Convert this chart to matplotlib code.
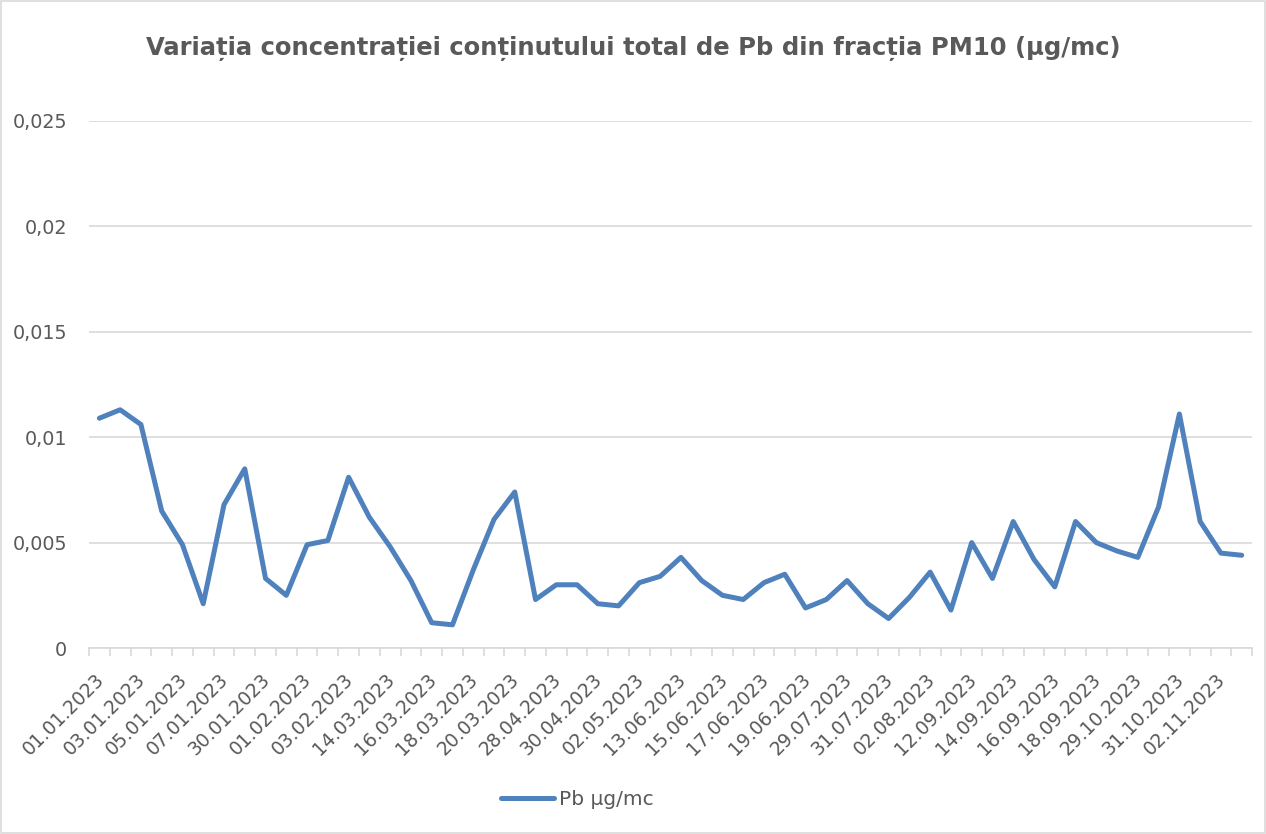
import numpy as np
import matplotlib.pyplot as plt
from matplotlib.ticker import FuncFormatter, FixedLocator
from matplotlib.patches import Rectangle
from matplotlib.transforms import ScaledTranslation

# every other date is shown on the axis (56 samples, 28 labels)
tick_labels = ['01.01.2023', '03.01.2023', '05.01.2023', '07.01.2023', '30.01.2023',
               '01.02.2023', '03.02.2023', '14.03.2023', '16.03.2023', '18.03.2023',
               '20.03.2023', '28.04.2023', '30.04.2023', '02.05.2023', '13.06.2023',
               '15.06.2023', '17.06.2023', '19.06.2023', '29.07.2023', '31.07.2023',
               '02.08.2023', '12.09.2023', '14.09.2023', '16.09.2023', '18.09.2023',
               '29.10.2023', '31.10.2023', '02.11.2023']

pb = [0.0109, 0.0113, 0.0106, 0.0065, 0.0049, 0.0021, 0.0068, 0.0085, 0.0033, 0.0025,
      0.0049, 0.0051, 0.0081, 0.0062, 0.0048, 0.0032, 0.0012, 0.0011, 0.0037, 0.0061,
      0.0074, 0.0023, 0.0030, 0.0030, 0.0021, 0.0020, 0.0031, 0.0034, 0.0043, 0.0032,
      0.0025, 0.0023, 0.0031, 0.0035, 0.0019, 0.0023, 0.0032, 0.0021, 0.0014, 0.0024,
      0.0036, 0.0018, 0.0050, 0.0033, 0.0060, 0.0042, 0.0029, 0.0060, 0.0050, 0.0046,
      0.0043, 0.0067, 0.0111, 0.0060, 0.0045, 0.0044]

gray = '#595959'
grid = '#D9D9D9'
blue = '#4F81BD'

fig = plt.figure(figsize=(12.66, 8.34), dpi=100)
ax = fig.add_axes([0.0703, 0.223, 0.9187, 0.632])

n = len(pb)
x = np.arange(n)
ax.plot(x, pb, color=blue, lw=3.6, solid_joinstyle='round', solid_capstyle='round',
        label='Pb µg/mc', zorder=3)

ax.set_xlim(-0.5, n - 0.5)
ax.set_ylim(0, 0.025)
ax.set_yticks(np.arange(0, 0.0251, 0.005))
ax.yaxis.set_major_formatter(FuncFormatter(
    lambda v, p: '0' if v == 0 else ('%g' % round(v, 4)).replace('.', ',')))
ax.grid(axis='y', color=grid, lw=1.2)
ax.set_axisbelow(True)

# tick marks at category boundaries, labels at every second category
ax.xaxis.set_major_locator(FixedLocator(np.arange(n + 1) - 0.5))
ax.xaxis.set_major_formatter(plt.NullFormatter())
ax.xaxis.set_minor_locator(FixedLocator(np.arange(0, n, 2)))
ax.set_xticklabels(tick_labels, minor=True, rotation=45, ha='right',
                   rotation_mode='anchor', fontsize=13.5, color=gray)
ax.tick_params(axis='x', which='major', length=6, color=grid, width=1.2)
ax.tick_params(axis='x', which='minor', length=0, pad=16)
ax.tick_params(axis='y', length=0, labelsize=13.8, labelcolor=gray, pad=16)
shift = ScaledTranslation(-5 / 100, 0, fig.dpi_scale_trans)
for lbl in ax.get_xticklabels(minor=True):
    lbl.set_transform(lbl.get_transform() + shift)

for s in ['top', 'right', 'left']:
    ax.spines[s].set_visible(False)
ax.spines['bottom'].set_color(grid)
ax.spines['bottom'].set_linewidth(1.2)

fig.text(0.5, 0.942, 'Variația concentrației conținutului total de Pb din fracția PM10 (µg/mc)',
         ha='center', va='center', fontsize=17.5, fontweight='bold', color=gray)

leg = fig.legend(loc='center', bbox_to_anchor=(0.456, 0.041), frameon=False,
                 fontsize=14.5, handlelength=2.6, handletextpad=0.25)
for t in leg.get_texts():
    t.set_color(gray)

fig.patches.append(Rectangle((0.001, 0.001), 0.998, 0.998, transform=fig.transFigure,
                             fill=False, edgecolor=grid, lw=1.2))

fig.savefig('out.png', dpi=100)
